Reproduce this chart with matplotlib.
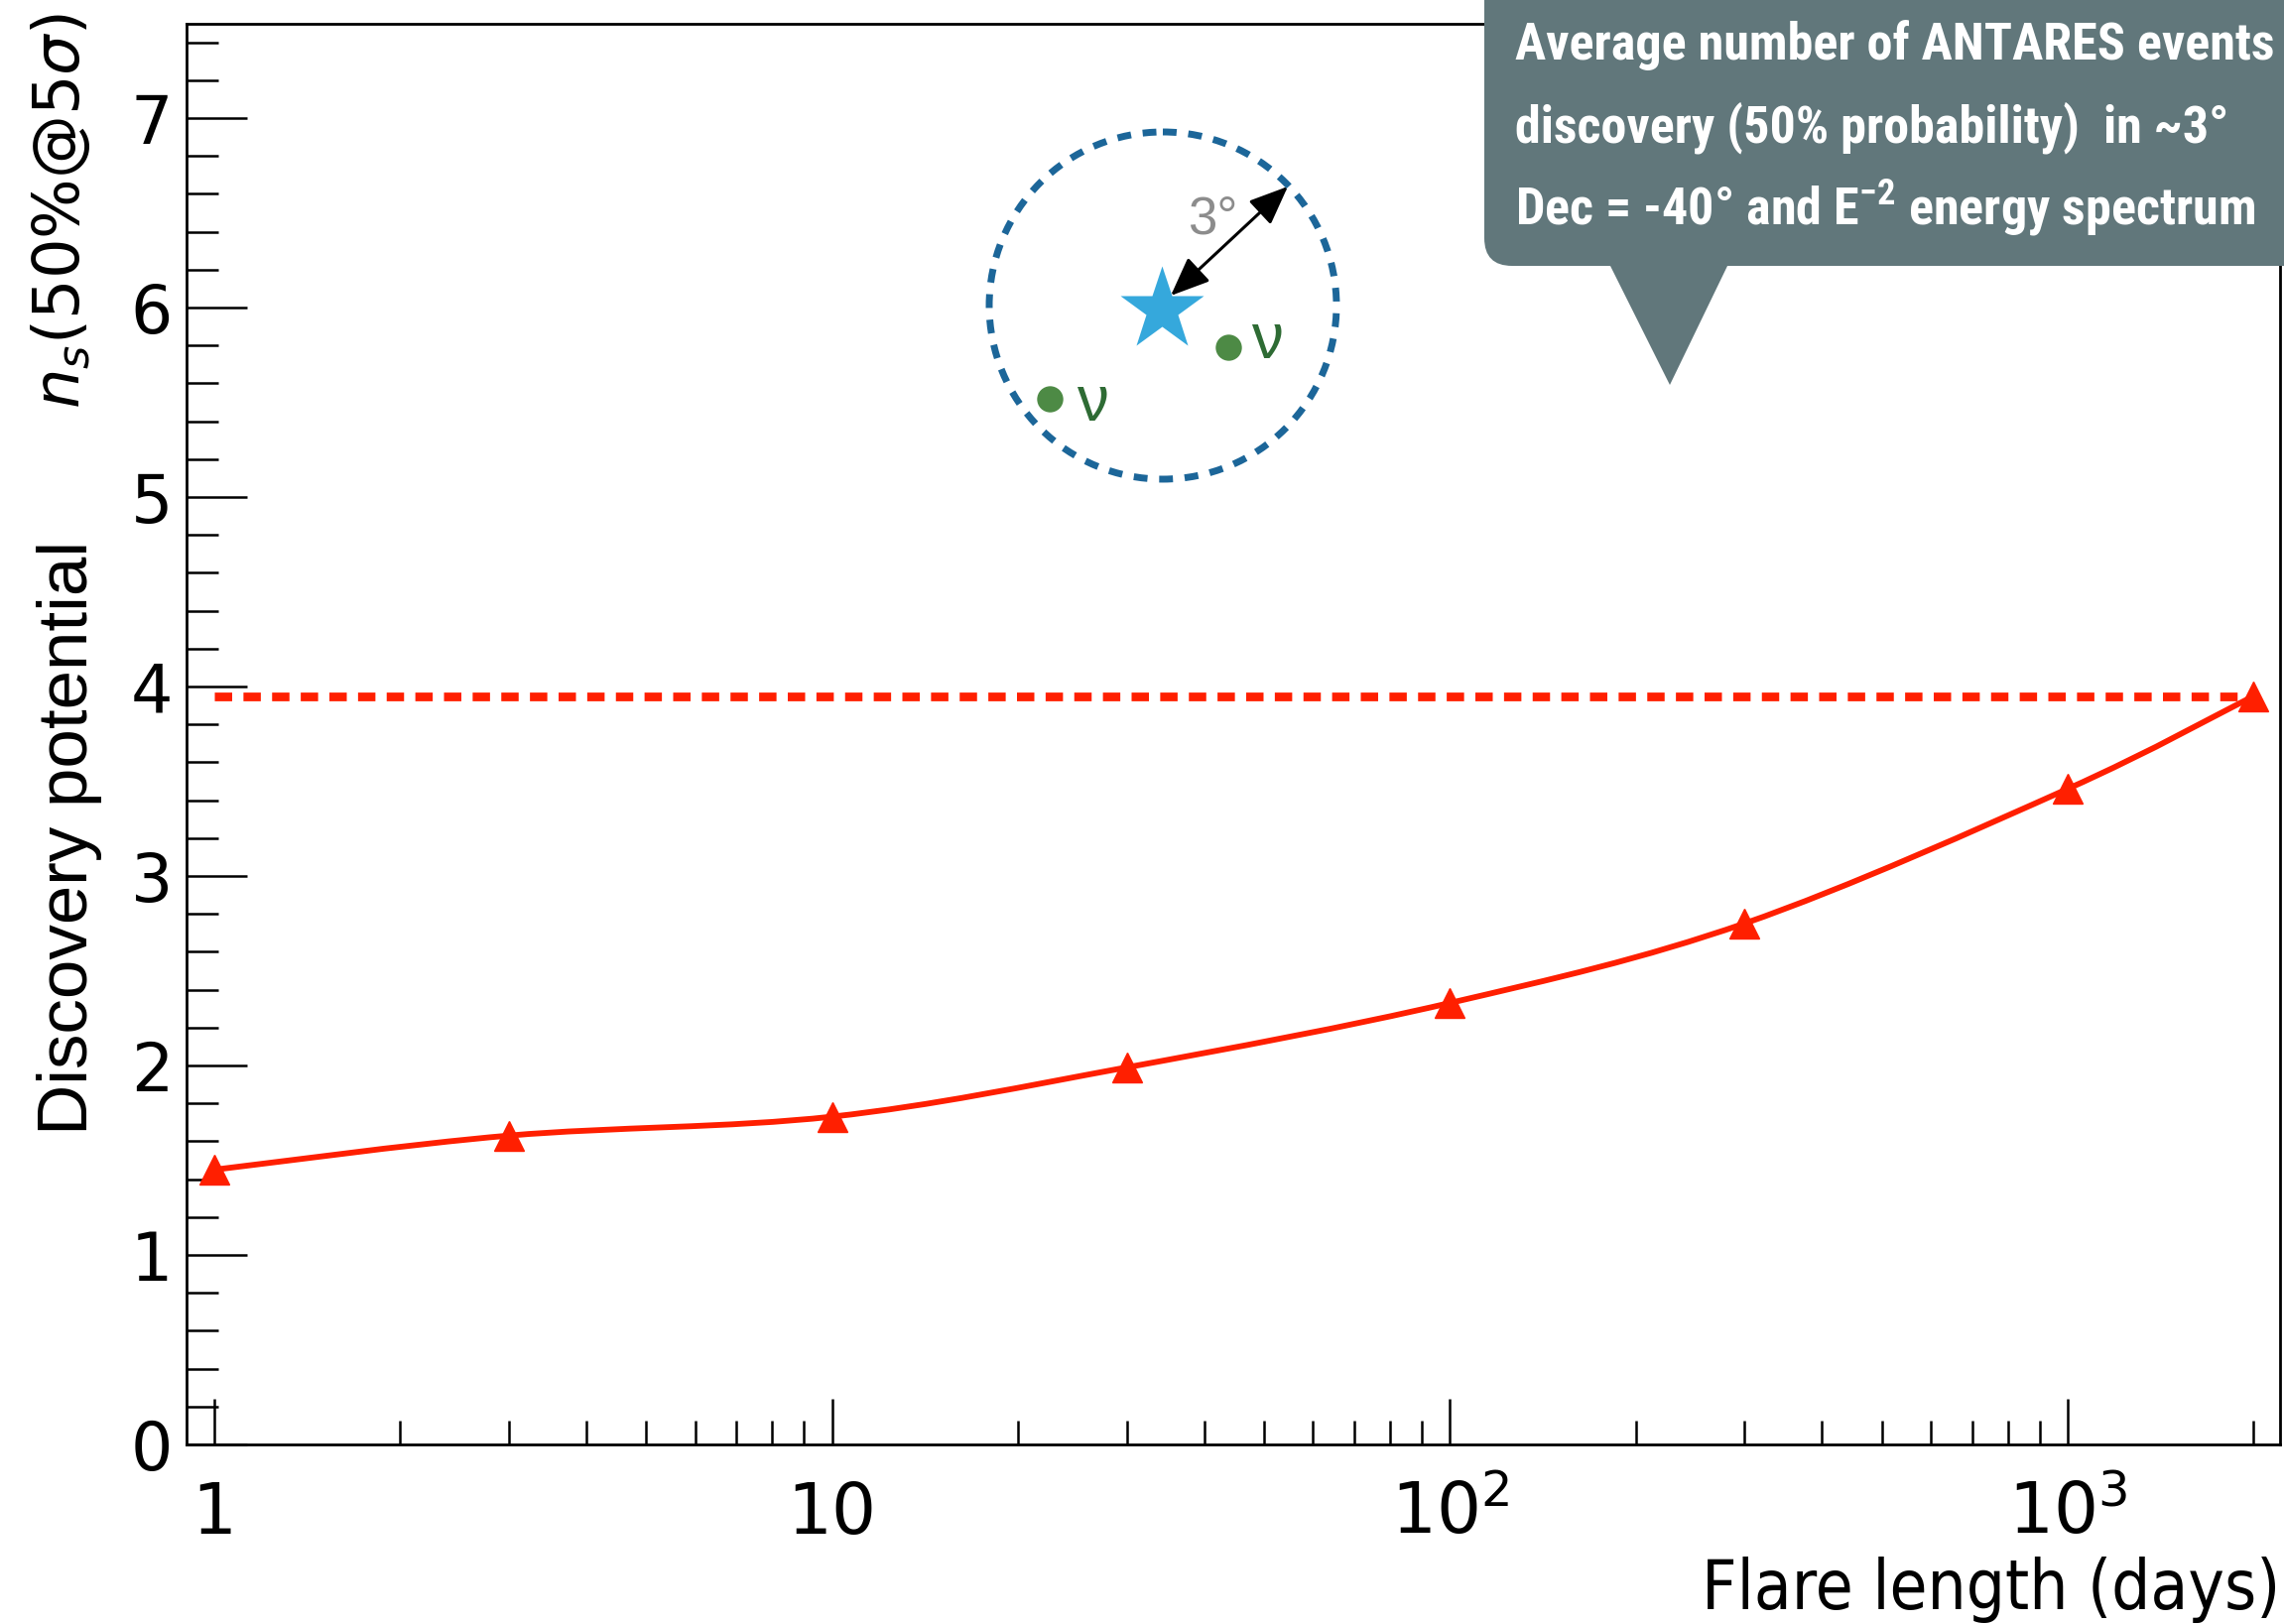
import numpy as np
import matplotlib

matplotlib.use("Agg")
import matplotlib.pyplot as plt
from matplotlib.path import Path
from matplotlib.patches import PathPatch, Circle, FancyBboxPatch, Polygon
from matplotlib.ticker import FixedLocator, MultipleLocator, NullFormatter

W, H = 2302, 1637  # canvas size in pixels (dpi 100)

# discovery potential vs flare duration
flare_days = np.array([1, 3, 10, 30, 100, 300, 1000, 2000])
discovery = np.array([1.45, 1.63, 1.73, 1.99, 2.33, 2.75, 3.46, 3.95])

x_ticks = [1, 10, 100, 1000]
x_tick_labels = ["1", "10", r"$\mathdefault{10^{2}}$", r"$\mathdefault{10^{3}}$"]
x_minor = [2, 3, 4, 5, 6, 7, 8, 9, 20, 30, 40, 50, 60, 70, 80, 90,
           200, 300, 400, 500, 600, 700, 800, 900, 2000]
y_ticks = [0, 1, 2, 3, 4, 5, 6, 7]

callout_lines = [
    "Average number of ANTARES events",
    "discovery (50% probability)  in ~3°",
    r"Dec = -40° and E$^{\mathdefault{-2}}$ energy spectrum",
]

RED = "#ff1f00"
BOX = "#61777b"

fig = plt.figure(figsize=(W / 100, H / 100), dpi=100)
ax = fig.add_axes([188 / W, 1 - 1456 / H, 2110 / W, 1432.5 / H])
ax.set_xscale("log")
ax.set_xlim(0.9016, 2206)
ax.set_ylim(0, 7.5)


def smooth_path(xs, ys):
    # Catmull-Rom curve through the points, built in log10(x) space
    lx = np.log10(xs)
    n = len(xs)
    verts = [(xs[0], ys[0])]
    codes = [Path.MOVETO]
    for i in range(n - 1):
        a = max(i - 1, 0)
        b = min(i + 2, n - 1)
        c1 = (lx[i] + (lx[i + 1] - lx[a]) / 6, ys[i] + (ys[i + 1] - ys[a]) / 6)
        c2 = (lx[i + 1] - (lx[b] - lx[i]) / 6, ys[i + 1] - (ys[b] - ys[i]) / 6)
        verts += [(10 ** c1[0], c1[1]), (10 ** c2[0], c2[1]), (xs[i + 1], ys[i + 1])]
        codes += [Path.CURVE4] * 3
    return Path(verts, codes)


ax.add_patch(PathPatch(smooth_path(flare_days, discovery), fill=False,
                       ec=RED, lw=4.2, capstyle="round", zorder=3))
ax.plot(flare_days, discovery, ls="none", marker="^", ms=22, color=RED, zorder=4)
# level reached at the longest flare
ax.plot([flare_days[0], flare_days[-1]], [discovery[-1], discovery[-1]],
        color=RED, lw=6.3, ls=(0, (2.0, 1.3)), zorder=3)

ax.xaxis.set_major_locator(FixedLocator(x_ticks))
ax.set_xticklabels(x_tick_labels)
ax.xaxis.set_minor_locator(FixedLocator(x_minor))
ax.xaxis.set_minor_formatter(NullFormatter())
ax.yaxis.set_major_locator(FixedLocator(y_ticks))
ax.yaxis.set_minor_locator(MultipleLocator(0.2))

ax.tick_params(axis="x", which="major", direction="in", length=33, width=1.8,
               labelsize=51, pad=65)
ax.tick_params(axis="x", which="minor", direction="in", length=17, width=1.8)
ax.tick_params(axis="y", which="major", direction="in", length=44, width=1.8,
               labelsize=48, pad=10)
ax.tick_params(axis="y", which="minor", direction="in", length=23, width=1.8)
plt.setp(ax.get_xticklabels(), va="baseline")
for s in ax.spines.values():
    s.set_linewidth(2.0)

# overlay in pixel units for labels and the sketch
ov = fig.add_axes([0, 0, 1, 1], zorder=5)
ov.set_xlim(0, W)
ov.set_ylim(H, 0)
ov.axis("off")

ov.text(2298, 1622, "Flare length (days)", ha="right", va="baseline",
        fontsize=49.5, fontstretch="condensed", family="DejaVu Sans")
ov.text(80, 213, r"$n_{s}(50\%@5\sigma)$", rotation=90, rotation_mode="anchor",
        ha="center", va="baseline", fontsize=46)
ov.text(88, 844, "Discovery potential", rotation=90, rotation_mode="anchor",
        ha="center", va="baseline", fontsize=51, family="Liberation Sans")

# 3 degree search cone sketch
ov.add_patch(Circle((1172, 308), 175, fill=False, ec="#1c6699", lw=5.0,
                    ls=(0, (2.0, 1.7))))
ov.plot(1171, 312, marker="*", ms=64, color="#35a8dc", mec="none")
ov.plot([1238, 1058], [350, 402], ls="none", marker="o", ms=19, color="#4d8a45",
        mec="none")
ov.text(1277, 344, "ν", ha="center", va="center", fontsize=46,
        color="#2e6b34", family="Liberation Sans")
ov.text(1101, 407, "ν", ha="center", va="center", fontsize=46,
        color="#2e6b34", family="Liberation Sans")
ov.annotate("", xy=(1298, 188), xytext=(1180, 298),
            arrowprops=dict(arrowstyle="<|-|>,head_length=0.6,head_width=0.25",
                            color="black", lw=2.2, mutation_scale=40,
                            shrinkA=0, shrinkB=0))
ov.text(1222, 222, "3°", ha="center", va="center", fontsize=38,
        color="#8c8c8c", family="Liberation Sans")

# callout box
ov.add_patch(FancyBboxPatch((1496, -80), 1000, 348,
                            boxstyle="round,pad=0,rounding_size=28",
                            fc=BOX, ec="none"))
ov.add_patch(Polygon([(1622, 266), (1742, 266), (1683, 388)], closed=True,
                     fc=BOX, ec="none"))
notes = []
for line, y in zip(callout_lines, [60, 143, 227]):
    notes.append(ov.text(1527, y, line, ha="left", va="baseline", fontsize=38,
                         fontweight="bold", fontstretch="condensed", color="white",
                         family=["Roboto Condensed", "DejaVu Sans"]))

# size the callout text so the first line fills the box width
fig.canvas.draw()
renderer = fig.canvas.get_renderer()
scale = 765 / notes[0].get_window_extent(renderer).width
for t in notes:
    t.set_fontsize(t.get_fontsize() * scale)

fig.savefig("out.png", dpi=100)
